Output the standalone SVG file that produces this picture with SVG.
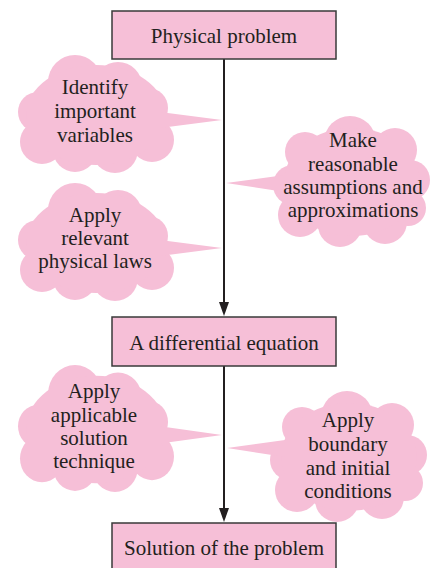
<svg xmlns="http://www.w3.org/2000/svg" xmlns:xlink="http://www.w3.org/1999/xlink" width="436" height="568" viewBox="0 0 436 568">
<style>
.box{fill:#F6BFD7;stroke:#3a3a3a;stroke-width:1.5}
.cloud{fill:#F6BFD7;stroke:none}
.t{font-family:"Liberation Serif","Times New Roman","DejaVu Serif",serif;font-size:21px;fill:#231f20;text-anchor:middle}
.conn{stroke:#231f20;stroke-width:2;fill:none}
.head{fill:#231f20}
</style>
<defs>
<g id="cloudL">
<circle cx="75" cy="82" r="27"/>
<circle cx="118" cy="86" r="24"/>
<circle cx="148" cy="108" r="20"/>
<circle cx="152" cy="140" r="22"/>
<circle cx="38" cy="112" r="20"/>
<circle cx="42" cy="142" r="22"/>
<circle cx="75" cy="150" r="22"/>
<circle cx="115" cy="150" r="23"/>
<ellipse cx="96" cy="115" rx="70" ry="50"/>
<polygon points="160,112 222,120 160,128"/>
</g>
<g id="cloudR">
<circle cx="350" cy="142" r="26"/>
<circle cx="305" cy="152" r="20"/>
<circle cx="395" cy="150" r="22"/>
<circle cx="410" cy="180" r="20"/>
<circle cx="293" cy="185" r="20"/>
<circle cx="300" cy="215" r="22"/>
<circle cx="340" cy="225" r="22"/>
<circle cx="385" cy="222" r="22"/>
<circle cx="408" cy="208" r="18"/>
<ellipse cx="352" cy="182" rx="68" ry="54"/>
</g>
</defs>

<g id="connectors">
<line class="conn" x1="224" y1="59" x2="224" y2="303"/>
<polygon class="head" points="219,302 229,302 224,316"/>
<line class="conn" x1="224" y1="366" x2="224" y2="509"/>
<polygon class="head" points="219,508 229,508 224,522"/>
</g>

<g id="cloud-identify" class="cloud">
<use xlink:href="#cloudL"/>
<text class="t" x="95" y="94">Identify</text>
<text class="t" x="95" y="118">important</text>
<text class="t" x="95" y="142">variables</text>
</g>

<g id="cloud-assumptions" class="cloud">
<use xlink:href="#cloudR"/>
<polygon points="285,175 226,183 285,192"/>
<text class="t" x="353" y="147">Make</text>
<text class="t" x="353" y="171">reasonable</text>
<text class="t" x="353" y="194">assumptions and</text>
<text class="t" x="353" y="217">approximations</text>
</g>

<g id="cloud-laws" class="cloud">
<use xlink:href="#cloudL" transform="translate(0,128)"/>
<text class="t" x="95" y="222">Apply</text>
<text class="t" x="95" y="245">relevant</text>
<text class="t" x="95" y="268">physical laws</text>
</g>

<g id="cloud-technique" class="cloud">
<use xlink:href="#cloudL" transform="translate(0,365) scale(1,1.076) translate(0,-55)"/>
<text class="t" x="94" y="398">Apply</text>
<text class="t" x="94" y="422">applicable</text>
<text class="t" x="94" y="445">solution</text>
<text class="t" x="94" y="468">technique</text>
</g>

<g id="cloud-conditions" class="cloud">
<use xlink:href="#cloudR" transform="translate(-3,275)"/>
<polygon points="285,440 227,448 285,457"/>
<text class="t" x="348" y="427">Apply</text>
<text class="t" x="348" y="451">boundary</text>
<text class="t" x="348" y="475">and initial</text>
<text class="t" x="348" y="498">conditions</text>
</g>

<g id="box-physical">
<rect class="box" x="112" y="11" width="224" height="48"/>
<text class="t" x="224" y="43">Physical problem</text>
</g>

<g id="box-equation">
<rect class="box" x="112" y="317" width="224" height="49"/>
<text class="t" x="224" y="350">A differential equation</text>
</g>

<g id="box-solution">
<rect class="box" x="112" y="523" width="224" height="50"/>
<text class="t" x="224" y="555">Solution of the problem</text>
</g>
</svg>
